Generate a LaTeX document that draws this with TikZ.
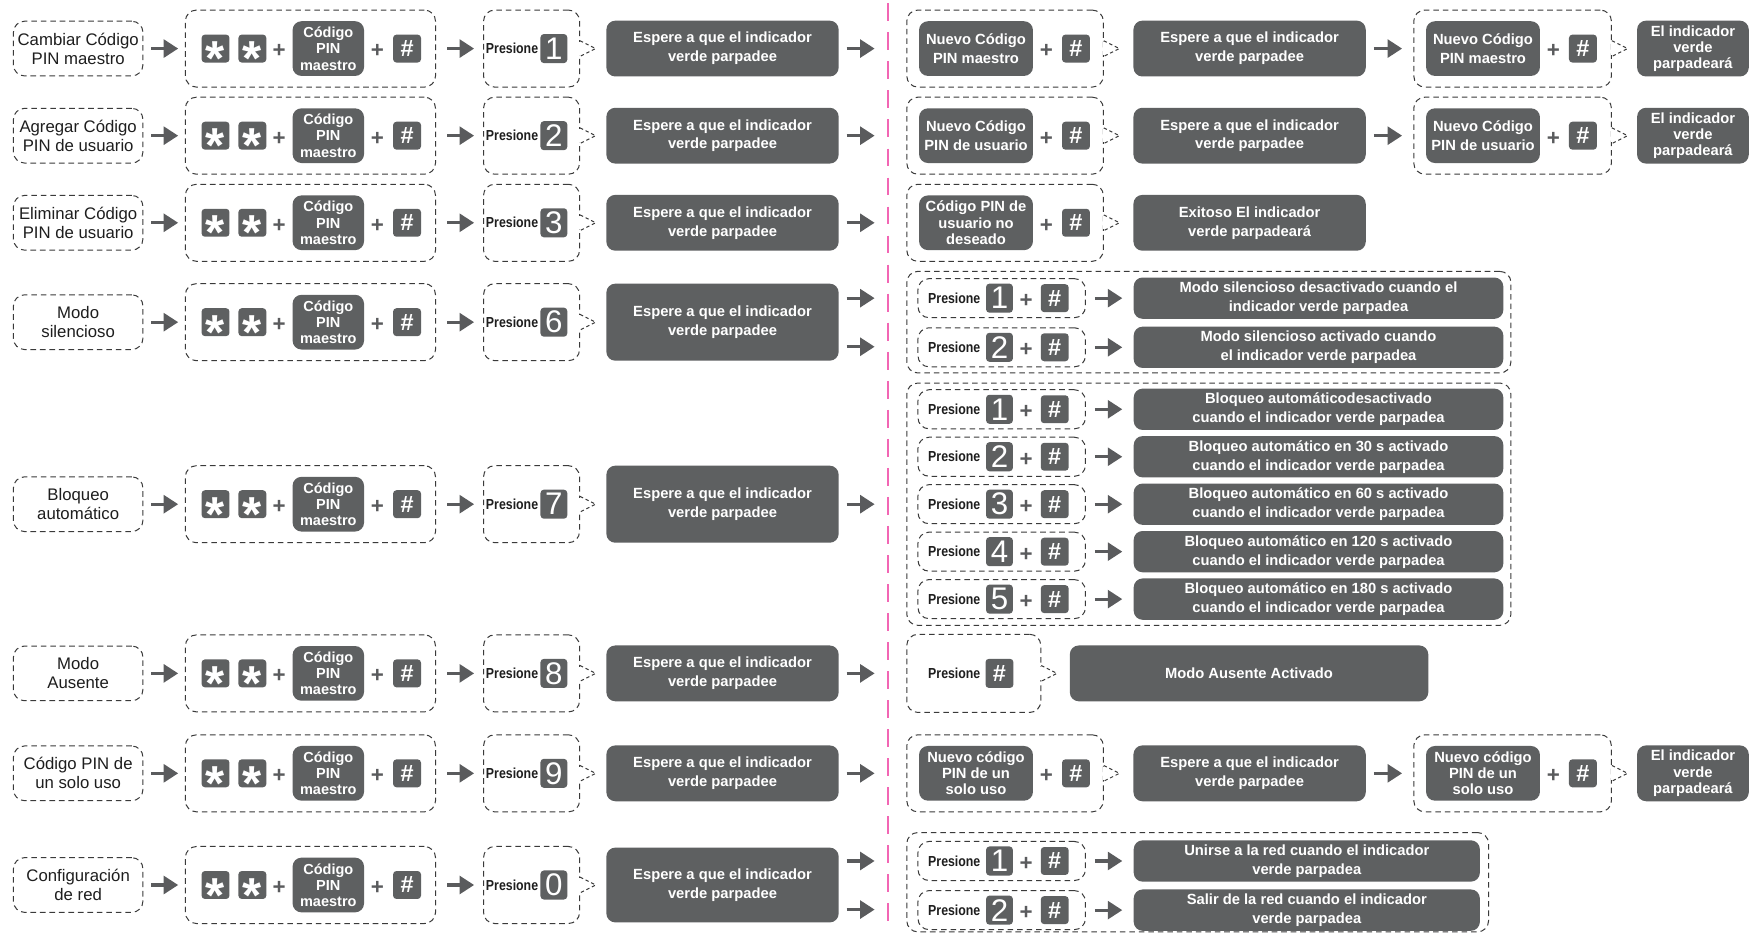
\documentclass[tikz,border=0pt]{standalone}
\usepackage{fontspec}
\usepackage{graphicx}
\setmainfont{Liberation Sans}
\usetikzlibrary{arrows.meta,calc}
\definecolor{boxc}{HTML}{5E6061}
\definecolor{arrc}{HTML}{5A5B5D}
\definecolor{dashc}{HTML}{3A3A3A}
\definecolor{pinkc}{HTML}{F266B4}
\definecolor{txtc}{HTML}{1E1E1E}
\newcommand\lblfont{\fontsize{15}{17}\selectfont}
\newcommand\gfont{\bfseries\fontsize{13.2}{17}\selectfont}
\newcommand\gtight{\bfseries\fontsize{13.2}{14.5}\selectfont}
\newcommand\digfont{\fontsize{28}{28}\selectfont}
\newcommand\hashfont{\bfseries\fontsize{21}{21}\selectfont}
\newcommand\astfont{\bfseries\fontsize{44}{44}\selectfont}
\newcommand\plusfont{\bfseries\fontsize{20}{20}\selectfont}
\newcommand\presfont{\bfseries\fontsize{13}{13}\selectfont}
\newcommand\prestext{\scalebox{0.85}[1]{Presione}}
\tikzset{
  dashline/.style={draw=dashc, line width=0.9pt, dash pattern=on 5pt off 3.5pt},
  dbox/.style={dashline, rounded corners=10pt, inner sep=0pt},
  lbl/.style={dbox, minimum width=116pt, minimum height=49pt, align=center, font=\lblfont, text=txtc},
  gbox/.style={fill=boxc, rounded corners=8pt, text=white, align=center, font=\gfont, inner sep=0pt},
  key/.style={fill=boxc, rounded corners=3pt, minimum width=25pt, minimum height=25pt, inner sep=0pt, text=white},
  plus/.style={text=arrc, font=\plusfont, inner sep=0pt, yshift=-2.5pt},
  pres/.style={font=\presfont, inner sep=0pt, text=txtc},
  bigarrow/.style={draw=arrc, line width=2.8pt, -{Triangle[length=13pt,width=16pt]}}
}
\newcommand\pointer[1]{%
  \draw[white, line width=2pt] ($(#1.east)+(0,-6)$) -- ($(#1.east)+(0,6)$);
  \draw[dashline, dash pattern=on 3pt off 2.5pt] ($(#1.east)+(0,-7)$) -- ++(14,7) -- ++(-14,7);}
\newcommand\rowleft[5]{%
  \node[lbl] (L#1) at (70,#2) {#3};
  \node[dbox, minimum width=224pt, minimum height=69pt] (S#1) at (278,#2) {};
  \node[key, font=\astfont] (ka#1) at (193,#2) {\smash{\raisebox{-0.55em}{*}}};
  \node[key, font=\astfont] (kb#1) at (226,#2) {\smash{\raisebox{-0.55em}{*}}};
  \node[plus] (pa#1) at (250,#2) {+};
  \node[gbox, font=\bfseries\fontsize{13}{14.5}\selectfont, minimum width=64pt, minimum height=49pt] (cm#1) at (294,#2) {Código\\PIN\\maestro};
  \node[plus] (pb#1) at (338,#2) {+};
  \node[key, font=\hashfont] (h#1) at (364.5,#2) {\#};
  \node[dbox, minimum width=86pt, minimum height=69pt] (P#1) at (476,#2) {};
  \node[pres, anchor=west] (pt#1) at (435,#2) {\prestext};
  \node[key, font=\digfont, minimum width=24pt, minimum height=26pt] (d#1) at (496,#2) {#4};
  \pointer{P#1}
  \node[gbox, minimum width=208pt, minimum height=#5pt] (E#1) at (647,#2) {Espere a que el indicador\\verde parpadee};
  \draw[bigarrow] ($(L#1.east)+(7,0)$) -- ($(S#1.west)+(-6,0)$);
  \draw[bigarrow] ($(S#1.east)+(10,0)$) -- ($(P#1.west)+(-8,0)$);
}
\newcommand\seqrow[4]{%
  \node[dbox, minimum width=176pt, minimum height=69pt] (DA#1) at (900,#2) {};
  \node[gbox, font=#4, minimum width=102pt, minimum height=49pt] (NA#1) at (874,#2) {#3};
  \node[plus] (qa#1) at (937,#2) {+};
  \node[key, font=\hashfont] (ha#1) at (963.5,#2) {\#};
  \pointer{DA#1}
  \node[gbox, minimum width=208pt, minimum height=50pt] (W#1) at (1119,#2) {Espere a que el indicador\\verde parpadee};
  \node[dbox, minimum width=177pt, minimum height=69pt] (DB#1) at (1354.5,#2) {};
  \node[gbox, font=#4, minimum width=102pt, minimum height=49pt] (NB#1) at (1328,#2) {#3};
  \node[plus] (qb#1) at (1391,#2) {+};
  \node[key, font=\hashfont] (hb#1) at (1417.5,#2) {\#};
  \pointer{DB#1}
  \node[gbox, font=\gtight, minimum width=100pt, minimum height=50pt] (F#1) at (1516,#2) {El indicador\\verde\\parpadeará};
  \draw[bigarrow] ($(E#1.east)+(7,0)$) -- ($(E#1.east)+(32,0)$);
  \draw[bigarrow] ($(W#1.east)+(7,0)$) -- ($(DB#1.west)+(-10,0)$);
}
\newcommand\optrow[5]{%
  \node[dbox, minimum width=150pt, minimum height=35pt] (O#1) at (897,#2) {};
  \node[pres, anchor=west] (ot#1) at (831,#2) {\prestext};
  \node[key, font=\digfont, minimum width=24pt, minimum height=26pt] (od#1) at (895,#2) {#3};
  \node[plus] (op#1) at (919,#2) {+};
  \node[key, font=\hashfont] (oh#1) at (944.5,#2) {\#};
  \node[gbox, minimum width=#5pt, minimum height=37pt, anchor=west] (R#1) at (1015,#2) {#4};
  \draw[bigarrow] ($(O#1.east)+(8,0)$) -- ($(R#1.west)+(-10,0)$);
}
\begin{document}
\begin{tikzpicture}[x=1pt,y=-1pt]
\useasboundingbox (0,0) rectangle (1568,835);
\fill[white] (0,0) rectangle (1568,835);
% divider
\draw[pinkc, line width=2pt, dash pattern=on 16pt off 10pt] (795,3) -- (795,835);
% left parts
\rowleft{1}{43.5}{Cambiar Código\\PIN maestro}{1}{50}
\rowleft{2}{121.5}{Agregar Código\\PIN de usuario}{2}{50}
\rowleft{3}{199.5}{Eliminar Código\\PIN de usuario}{3}{50}
\rowleft{4}{288.5}{Modo\\silencioso}{6}{69}
\rowleft{5}{451.5}{Bloqueo\\automático}{7}{69}
\rowleft{6}{603}{Modo\\Ausente}{8}{50}
\rowleft{7}{692.5}{Código PIN de\\un solo uso}{9}{50}
\rowleft{8}{792.5}{Configuración\\de red}{0}{67}
% row 1, 2, 7
\seqrow{1}{43.5}{Nuevo Código\\PIN maestro}{\gfont}
\seqrow{2}{121.5}{Nuevo Código\\PIN de usuario}{\gfont}
\seqrow{7}{692.5}{Nuevo código\\PIN de un\\solo uso}{\gtight}
% row 3
\node[dbox, minimum width=176pt, minimum height=69pt] (DA3) at (900,199.5) {};
\node[gbox, font=\gtight, minimum width=102pt, minimum height=49pt] (NA3) at (874,199.5) {Código PIN de\\usuario no\\deseado};
\node[plus] (qa3) at (937,199.5) {+};
\node[key, font=\hashfont] (ha3) at (963.5,199.5) {\#};
\pointer{DA3}
\node[gbox, minimum width=208pt, minimum height=50pt] (X3) at (1119,199.5) {Exitoso El indicador\\verde parpadeará};
\draw[bigarrow] ($(E3.east)+(7,0)$) -- ($(E3.east)+(32,0)$);
% row 4
\node[dbox, minimum width=541pt, minimum height=91pt] (G4) at (1082.5,288.5) {};
\optrow{41}{267}{1}{Modo silencioso desactivado cuando el\\indicador verde parpadea}{331}
\optrow{42}{311}{2}{Modo silencioso activado cuando\\el indicador verde parpadea}{331}
\draw[bigarrow] ($(E4.east)+(7,-21.5)$) -- ($(E4.east)+(32,-21.5)$);
\draw[bigarrow] ($(E4.east)+(7,22)$) -- ($(E4.east)+(32,22)$);
% row 5
\node[dbox, minimum width=541pt, minimum height=217pt] (G5) at (1082.5,451.5) {};
\optrow{51}{366.5}{1}{Bloqueo automáticodesactivado\\cuando el indicador verde parpadea}{331}
\optrow{52}{409}{2}{Bloqueo automático en 30 s activado\\cuando el indicador verde parpadea}{331}
\optrow{53}{451.5}{3}{Bloqueo automático en 60 s activado\\cuando el indicador verde parpadea}{331}
\optrow{54}{494}{4}{Bloqueo automático en 120 s activado\\cuando el indicador verde parpadea}{331}
\optrow{55}{536.5}{5}{Bloqueo automático en 180 s activado\\cuando el indicador verde parpadea}{331}
\draw[bigarrow] ($(E5.east)+(7,0)$) -- ($(E5.east)+(32,0)$);
% row 6
\node[dbox, minimum width=120pt, minimum height=70pt] (DA6) at (872,603) {};
\node[pres, anchor=west] (pt6b) at (831,603) {\prestext};
\node[key, font=\hashfont, minimum width=25pt, minimum height=26pt] (ha6) at (895,603) {\#};
\pointer{DA6}
\node[gbox, minimum width=321pt, minimum height=50pt] (X6) at (1118.5,603) {Modo Ausente Activado};
\draw[bigarrow] ($(E6.east)+(7,0)$) -- ($(E6.east)+(32,0)$);
% row 8
\node[dbox, minimum width=521pt, minimum height=89pt] (G8) at (1072.5,790) {};
\optrow{81}{771}{1}{Unirse a la red cuando el indicador\\verde parpadea}{310}
\optrow{82}{815}{2}{Salir de la red cuando el indicador\\verde parpadea}{310}
\draw[bigarrow] ($(E8.east)+(7,-21.5)$) -- ($(E8.east)+(32,-21.5)$);
\draw[bigarrow] ($(E8.east)+(7,22)$) -- ($(E8.east)+(32,22)$);
\end{tikzpicture}
\end{document}
